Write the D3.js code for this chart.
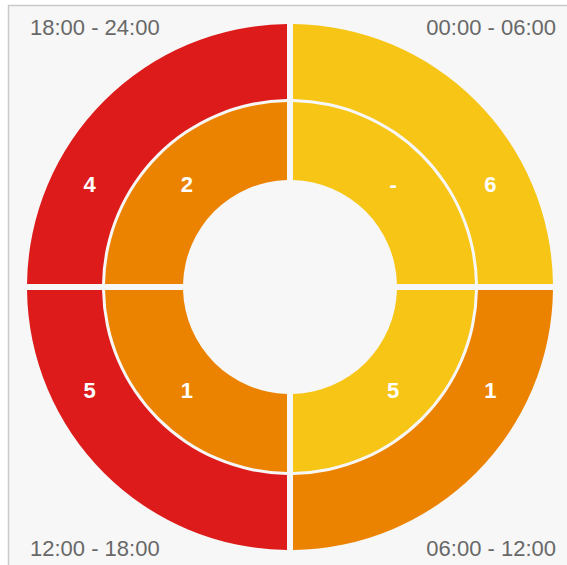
<!DOCTYPE html>
<html>
<head>
<meta charset="utf-8">
<script src="https://cdn.jsdelivr.net/npm/d3@7"></script>
<style>
  html, body { margin: 0; padding: 0; background: #ffffff; }
  svg { display: block; }
</style>
</head>
<body>
<svg id="chart" width="567" height="565"></svg>
<script>
// Time-of-day quadrants, clockwise from the top
const periods = ["00:00 - 06:00", "06:00 - 12:00", "12:00 - 18:00", "18:00 - 24:00"];
const outerValues = ["6", "1", "5", "4"];
const innerValues = ["-", "5", "1", "2"];
const outerColors = ["#f6c516", "#ec8300", "#dd1b1b", "#dd1b1b"];
const innerColors = ["#f6c516", "#f6c516", "#ec8300", "#ec8300"];

const svg = d3.select("#chart");
const cx = 290, cy = 287;

// Panel frame
svg.append("rect")
  .attr("x", 8.5).attr("y", 5.5)
  .attr("width", 600).attr("height", 600)
  .attr("fill", "#f7f7f7")
  .attr("stroke", "#c9c9c9").attr("stroke-width", 1.5);

const g = svg.append("g").attr("transform", `translate(${cx},${cy})`);

// Equal quarters for every period
const pie = d3.pie().value(() => 1).sort(null);
const slices = pie(periods);

const rOuter = [188, 263];
const rInner = [107, 185];

const arcOuter = d3.arc().innerRadius(rOuter[0]).outerRadius(rOuter[1])
  .padRadius(300).padAngle(6 / 300);
const arcInner = d3.arc().innerRadius(rInner[0]).outerRadius(rInner[1])
  .padRadius(300).padAngle(6 / 300);

g.selectAll("path.outer").data(slices).join("path")
  .attr("class", "outer")
  .attr("d", arcOuter)
  .attr("fill", (d, i) => outerColors[i]);

g.selectAll("path.inner").data(slices).join("path")
  .attr("class", "inner")
  .attr("d", arcInner)
  .attr("fill", (d, i) => innerColors[i]);

// Inner labels sit at the ring centroid; outer labels share their height
const innerMid = (rInner[0] + rInner[1]) / 2;
const outerMid = (rOuter[0] + rOuter[1]) / 2;

function labelPos(d, radius, alignY) {
  const a = (d.startAngle + d.endAngle) / 2;
  const sx = Math.sin(a) >= 0 ? 1 : -1;
  const sy = -Math.cos(a) >= 0 ? 1 : -1;
  const y = innerMid * Math.abs(Math.cos(a));
  if (!alignY) return [sx * innerMid * Math.abs(Math.sin(a)), sy * y];
  const x = Math.sqrt(radius * radius - y * y);
  return [sx * x, sy * y];
}

g.selectAll("text.innerLbl").data(slices).join("text")
  .attr("class", "innerLbl")
  .attr("transform", d => `translate(${labelPos(d, innerMid, false)})`)
  .attr("text-anchor", "middle").attr("dy", "0.36em")
  .attr("font-family", "Liberation Sans, Arial, sans-serif")
  .attr("font-weight", "bold").attr("font-size", 22)
  .attr("fill", "#ffffff")
  .text((d, i) => innerValues[i]);

g.selectAll("text.outerLbl").data(slices).join("text")
  .attr("class", "outerLbl")
  .attr("transform", d => `translate(${labelPos(d, outerMid, true)})`)
  .attr("text-anchor", "middle").attr("dy", "0.36em")
  .attr("font-family", "Liberation Sans, Arial, sans-serif")
  .attr("font-weight", "bold").attr("font-size", 22)
  .attr("fill", "#ffffff")
  .text((d, i) => outerValues[i]);

// Period names in the corners
const corners = [
  { x: 556, y: 35, anchor: "end" },
  { x: 556, y: 556, anchor: "end" },
  { x: 30, y: 556, anchor: "start" },
  { x: 30, y: 35, anchor: "start" }
];
svg.selectAll("text.period").data(periods).join("text")
  .attr("class", "period")
  .attr("x", (d, i) => corners[i].x)
  .attr("y", (d, i) => corners[i].y)
  .attr("text-anchor", (d, i) => corners[i].anchor)
  .attr("font-family", "Liberation Sans, Arial, sans-serif")
  .attr("font-size", 22)
  .attr("fill", "#686868")
  .text(d => d);
</script>
</body>
</html>
